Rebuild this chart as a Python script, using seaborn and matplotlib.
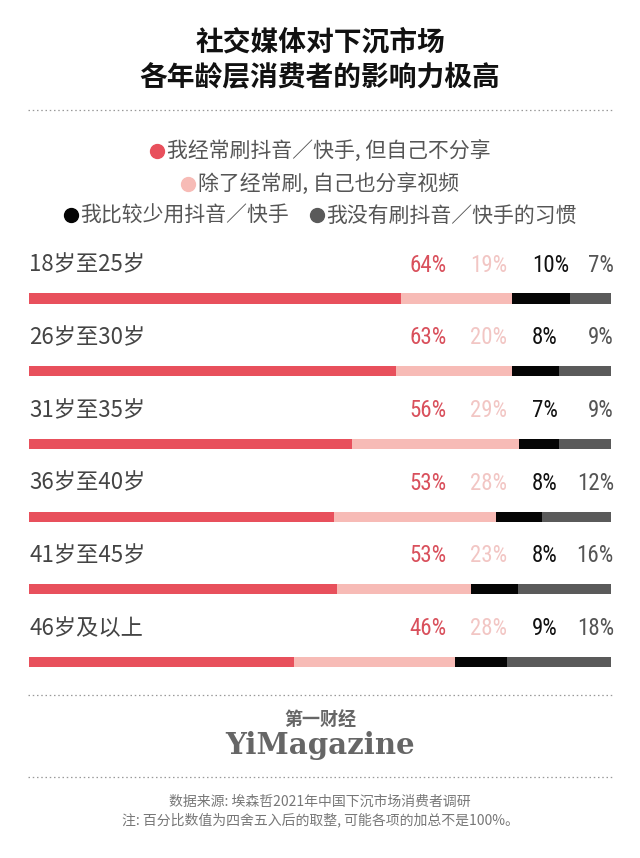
import numpy as np
import pandas as pd
import matplotlib
matplotlib.use("Agg")
import matplotlib.pyplot as plt
import seaborn as sns
from matplotlib import font_manager
from matplotlib.lines import Line2D
import matplotlib.transforms as mtransforms

# 数据
ages = ["18岁至25岁", "26岁至30岁", "31岁至35岁", "36岁至40岁", "41岁至45岁", "46岁及以上"]
watch_only = [64, 63, 56, 53, 53, 46]
watch_share = [19, 20, 29, 28, 23, 28]
seldom = [10, 8, 7, 8, 8, 9]
never = [7, 9, 9, 12, 16, 18]
legend_labels = ["我经常刷抖音／快手, 但自己不分享", "除了经常刷, 自己也分享视频",
                 "我比较少用抖音／快手", "我没有刷抖音／快手的习惯"]

bar_colors = ["#E8505C", "#F7BBB6", "#050505", "#5A5A5A"]
text_colors = ["#D9505C", "#F2C6C4", "#111111", "#555555"]

sns.set_theme(style="white")
plt.rcParams['font.family'] = ['Noto Sans CJK SC', 'DejaVu Sans']

# 百分比用窄字体
installed = {f.name for f in font_manager.fontManager.ttflist}
num_font = 'Roboto'
for cand in ['Liberation Sans Narrow', 'Roboto Condensed', 'Open Sans Condensed']:
    if cand in installed:
        num_font = cand
        break

df = pd.DataFrame({"age": ages, "a": watch_only, "b": watch_share, "c": seldom, "d": never})
total = df[["a", "b", "c", "d"]].sum(axis=1)
for k in ["a", "b", "c", "d"]:
    df[k + "_pct"] = df[k] / total * 100
df["cum1"] = df["a_pct"]
df["cum2"] = df["cum1"] + df["b_pct"]
df["cum3"] = df["cum2"] + df["c_pct"]
df["cum4"] = df["cum3"] + df["d_pct"]

W, H = 640, 858
fig = plt.figure(figsize=(W / 100, H / 100), dpi=100)
fig.patch.set_facecolor("white")

def fy(px):
    return 1 - px / H

# 条形图区域
row_top = 298.5 - 36.35
row_bot = 662 + 36.35
ax = fig.add_axes([29 / W, fy(row_bot), 582 / W, (row_bot - row_top) / H])

for col, c in zip(["cum4", "cum3", "cum2", "cum1"], bar_colors[::-1]):
    sns.barplot(data=df, x=col, y="age", order=ages, color=c, width=0.14,
                saturation=1, linewidth=0, orient="h", ax=ax)

ax.set_xlim(0, 100)
ax.set_ylim(len(ages) - 0.5, -0.5)
ax.axis("off")

blend = mtransforms.blended_transform_factory(ax.transAxes, ax.transData)
label_dy = -0.46
for i, row in df.iterrows():
    ax.text(0.0, i + label_dy, row["age"], transform=blend, ha="left", va="center",
            fontsize=16, color="#444444")
    vals = [row["a"], row["b"], row["c"], row["d"]]
    xs = [0.6856, 0.7895, 0.8643, 1.005]
    has = ["center", "center", "left", "right"]
    for v, x, h, tc in zip(vals, xs, has, text_colors):
        ax.text(x, i + label_dy, f"{int(v)}%", transform=blend, ha=h, va="center",
                fontsize=16.5, color=tc, family=num_font)

# 标题
fig.text(0.5, fy(42), "社交媒体对下沉市场", ha="center", va="center",
         fontsize=20, fontweight="bold", color="#111111")
fig.text(0.5, fy(77), "各年龄层消费者的影响力极高", ha="center", va="center",
         fontsize=20, fontweight="bold", color="#111111")

# 虚线
for yy in [110, 695, 777]:
    fig.add_artist(Line2D([28 / W, 612 / W], [fy(yy), fy(yy)], transform=fig.transFigure,
                          color="#999999", lw=0.9, linestyle=(0, (1.2, 2.2))))

# 图例
def dot(c):
    return Line2D([], [], marker="o", linestyle="", markerfacecolor=c,
                  markeredgecolor=c, markersize=10)

legend_rows = [([0], 152), ([1], 185), ([2, 3], 216)]
for idx, yy in legend_rows:
    fig.legend(handles=[dot(bar_colors[j]) for j in idx],
               labels=[legend_labels[j] for j in idx],
               loc="center", bbox_to_anchor=(0.5, fy(yy)), ncol=len(idx),
               frameon=False, fontsize=15, labelcolor="#555555",
               handlelength=0.7, handletextpad=0.1, columnspacing=1.0,
               borderpad=0, borderaxespad=0)

# 页脚
fig.text(0.5, fy(720), "第一财经", ha="center", va="center", fontsize=13,
         fontweight="bold", color="#666666")
fig.text(0.5, fy(745), "YiMagazine", ha="center", va="center", fontsize=21,
         fontweight="bold", color="#666666", family=["DejaVu Serif"])
fig.text(0.5, fy(802), "数据来源: 埃森哲2021年中国下沉市场消费者调研", ha="center",
         va="center", fontsize=10, color="#777777")
fig.text(0.5, fy(820), "注: 百分比数值为四舍五入后的取整, 可能各项的加总不是100%。",
         ha="center", va="center", fontsize=10, color="#777777")

fig.savefig("out.png", dpi=100, facecolor="white")
